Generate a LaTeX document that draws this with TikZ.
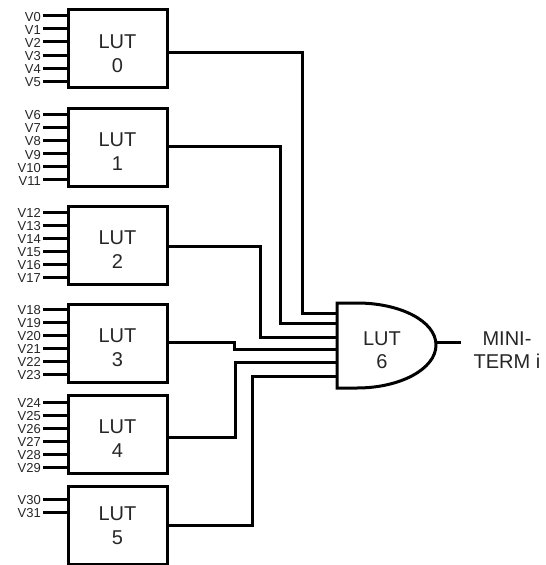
\documentclass[tikz,border=0pt]{standalone}
\usepackage{fontspec}
\setmainfont{Liberation Sans}
\usetikzlibrary{positioning}
\tikzset{
  Leitung/.style={line width=3pt,line cap=butt,line join=miter},
  LUTBox/.style={draw,line width=3pt,minimum width=99pt,minimum height=78pt,
    inner sep=0pt,outer sep=0pt},
  LUTText/.style={inner sep=0pt,align=center,text=black!85,font=\fontsize{20}{23}\selectfont},
  VText/.style={inner sep=0pt,text=black!85,font=\fontsize{13}{13}\selectfont}
}

\begin{document}
\begin{tikzpicture}[x=1pt,y=-1pt]
\useasboundingbox (0,0) rectangle (546,565);

%LUTs
\node[LUTBox] (LUT0) at (117.5,48) {};
\node[LUTBox,below=21pt of LUT0] (LUT1) {};
\node[LUTBox,below=20pt of LUT1] (LUT2) {};
\node[LUTBox,below=20pt of LUT2] (LUT3) {};
\node[LUTBox,below=13pt of LUT3] (LUT4) {};
\node[LUTBox,below=13pt of LUT4] (LUT5) {};
\foreach \k/\drop in {0/5.5,1/5,2/5,3/4.5,4/5,5/1}
  \node[LUTText,font=\fontsize{20}{24}\selectfont] (Name\k) at ([yshift={-\drop*1pt}]LUT\k) {LUT\\\k};

%Eingaenge
\foreach \k/\first/\last/\off in {0/0/5/6.7,1/6/11/6.3,2/12/17/6,3/18/23/5,4/24/29/7,5/30/31/13}
  \foreach \n in {\first,...,\last}{%
    \coordinate (P\n) at ([xshift=-25pt,yshift={-(\off+13.1*(\n-\first))*1pt}]LUT\k.north west);
    \node[VText,left=2pt of P\n,yshift=-1pt] (V\n) {V\n};
    \draw[Leitung] (P\n) -- (LUT\k.west |- P\n);
  }

%Gatter
\coordinate (GateNW) at (337,303);
\coordinate (GateSW) at (337,388);
\coordinate (GateTip) at (436,345);
\coordinate (Out) at (461,342);
\node[LUTText] (LUT6) at (382,350) {LUT\\6};
\node[LUTText] (Term) at (507,350) {MINI-\\TERM i};

%Leiterbahnen
\foreach \k/\y/\bus/\pin in {0/52/302/313,1/146/280/323,2/246/260/337,3/342/234/349,4/437/235/362,5/525/252/376}{%
  \coordinate (In\k) at (337,\pin);
  \draw[Leitung] (LUT\k.east |- 0,\y) -| (\bus,\pin) -- (In\k);
}
\draw[Leitung] (GateTip |- Out) -- (Out);

\draw[Leitung] (GateNW) -- (357,303) .. controls (400,303) and (436,321) .. (GateTip)
  .. controls (436,369) and (400,388) .. (357,388) -- (GateSW) -- cycle;

\end{tikzpicture}
\end{document}
